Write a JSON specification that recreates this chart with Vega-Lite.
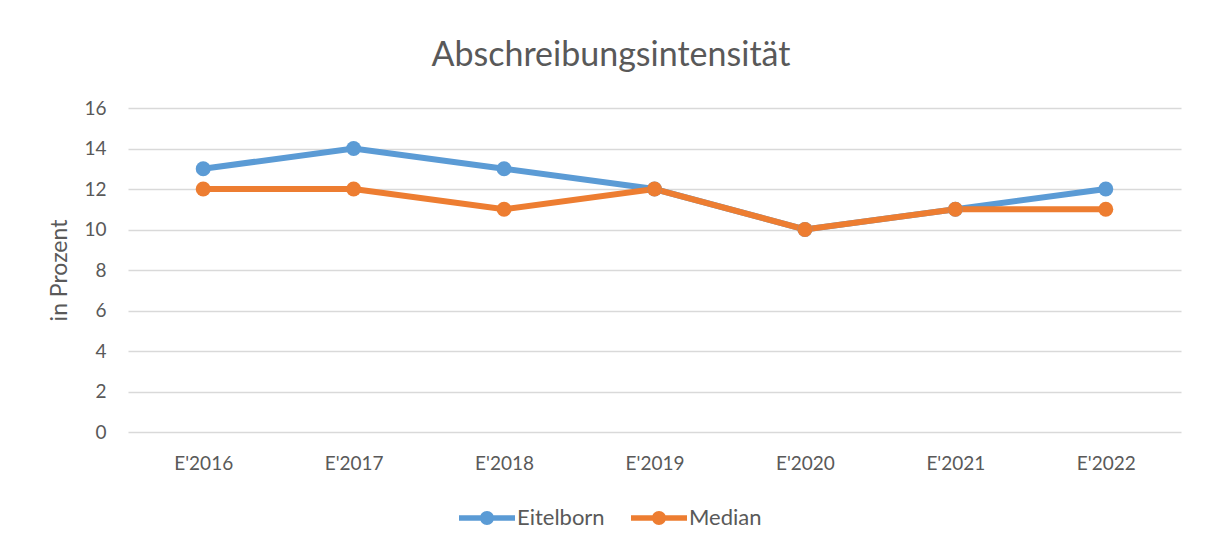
{
  "$schema": "https://vega.github.io/schema/vega-lite/v6.json",
  "autosize": "none",
  "width": 1053,
  "height": 324,
  "padding": {"left": 128, "top": 108, "right": 25, "bottom": 114},
  "background": "white",
  "config": {
    "font": "Lato",
    "view": {"stroke": null},
    "axis": {"labelColor": "#595959", "titleColor": "#595959", "labelFont": "Lato", "titleFont": "Lato"}
  },
  "title": {
    "text": "Abschreibungsintensität",
    "fontSize": 34,
    "font": "Lato",
    "fontWeight": "normal",
    "color": "#595959",
    "anchor": "middle",
    "frame": "bounds",
    "offset": 26,
    "dx": -4
  },
  "data": {
    "values": [
      {"Jahr": "E'2016", "Reihe": "Eitelborn", "Wert": 13},
      {"Jahr": "E'2017", "Reihe": "Eitelborn", "Wert": 14},
      {"Jahr": "E'2018", "Reihe": "Eitelborn", "Wert": 13},
      {"Jahr": "E'2019", "Reihe": "Eitelborn", "Wert": 12},
      {"Jahr": "E'2020", "Reihe": "Eitelborn", "Wert": 10},
      {"Jahr": "E'2021", "Reihe": "Eitelborn", "Wert": 11},
      {"Jahr": "E'2022", "Reihe": "Eitelborn", "Wert": 12},
      {"Jahr": "E'2016", "Reihe": "Median", "Wert": 12},
      {"Jahr": "E'2017", "Reihe": "Median", "Wert": 12},
      {"Jahr": "E'2018", "Reihe": "Median", "Wert": 11},
      {"Jahr": "E'2019", "Reihe": "Median", "Wert": 12},
      {"Jahr": "E'2020", "Reihe": "Median", "Wert": 10},
      {"Jahr": "E'2021", "Reihe": "Median", "Wert": 11},
      {"Jahr": "E'2022", "Reihe": "Median", "Wert": 11}
    ]
  },
  "encoding": {
    "x": {
      "field": "Jahr",
      "type": "ordinal",
      "scale": {"type": "point", "padding": 0.5},
      "axis": {
        "title": null,
        "labelAngle": 0,
        "labelFontSize": 19,
        "labelPadding": 22,
        "ticks": false,
        "domain": false,
        "grid": false
      }
    },
    "y": {
      "field": "Wert",
      "type": "quantitative",
      "scale": {"domain": [0, 16], "nice": false},
      "axis": {
        "title": "in Prozent",
        "titleFontSize": 23,
        "titleFontWeight": "normal",
        "titlePadding": 12,
        "values": [0, 2, 4, 6, 8, 10, 12, 14, 16],
        "labelFontSize": 19,
        "labelPadding": 22,
        "ticks": false,
        "domain": false,
        "gridColor": "#D9D9D9",
        "gridWidth": 1.5
      }
    },
    "color": {
      "field": "Reihe",
      "type": "nominal",
      "scale": {"domain": ["Eitelborn", "Median"], "range": ["#5B9BD5", "#ED7D31"]},
      "legend": {
        "title": null,
        "orient": "none",
        "direction": "horizontal",
        "legendX": 331,
        "legendY": 382,
        "symbolType": "M-1,-0.1 L1,-0.1 L1,0.1 L-1,0.1 Z M0.25,0 A0.25,0.25 0 1,1 -0.25,0 A0.25,0.25 0 1,1 0.25,0 Z",
        "symbolSize": 3136,
        "symbolStrokeWidth": 0,
        "labelFontSize": 22,
        "labelColor": "#595959",
        "labelOffset": 2,
        "columnPadding": 26
      }
    }
  },
  "layer": [
    {"mark": {"type": "line", "strokeWidth": 6}},
    {"mark": {"type": "point", "filled": true, "size": 225, "opacity": 1, "shape": "circle"}}
  ]
}
